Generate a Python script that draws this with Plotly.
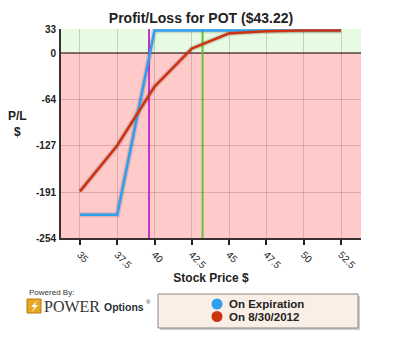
import plotly.graph_objects as go

# Stock prices evaluated
prices = [35, 37.5, 40, 42.5, 45, 47.5, 50, 52.5]
price_labels = ["35", "37.5", "40", "42.5", "45", "47.5", "50", "52.5"]

# P/L series
pl_expiration = [-222, -222, 31, 31, 31, 31, 31, 31]
pl_on_date = [-190, -127, -46, 6, 27, 30, 31, 31]

# Y axis ticks
y_ticks = [33, 0, -64, -127, -191, -254]

# Reference levels
breakeven = 39.63
current_price = 43.22

series_names = ["On Expiration", "On 8/30/2012"]
series_colors = ["#2f9ef0", "#cc3311"]

x_range = [33.73, 53.84]
y_range = [-254, 33]

FONT = "Liberation Sans, Arial"


def px(x):
    # pixel column -> paper x
    return (x - 61) / 300


def py(y):
    # pixel row -> paper y
    return (238 - y) / 209


fig = go.Figure()

# soft shadow under each curve
for ys in [pl_expiration, pl_on_date]:
    fig.add_trace(go.Scatter(
        x=prices, y=ys, mode="lines",
        line=dict(color="rgba(60,40,40,0.15)", width=5.5),
        hoverinfo="skip", showlegend=False,
    ))

for ys, name, col in zip([pl_expiration, pl_on_date], series_names, series_colors):
    fig.add_trace(go.Scatter(
        x=prices, y=ys, mode="lines", name=name,
        line=dict(color=col, width=2.6), showlegend=False,
    ))

shapes = [
    # profit / loss zones
    dict(type="rect", xref="x", yref="y", x0=x_range[0], x1=x_range[1], y0=0, y1=y_range[1],
         fillcolor="#e6fbe1", line_width=0, layer="below"),
    dict(type="rect", xref="x", yref="y", x0=x_range[0], x1=x_range[1], y0=y_range[0], y1=0,
         fillcolor="#ffcaca", line_width=0, layer="below"),
    # zero line
    dict(type="line", xref="x", yref="y", x0=x_range[0], x1=x_range[1], y0=0, y1=0,
         line=dict(color="#5a4444", width=1.5), layer="below"),
    # breakeven and current price markers
    dict(type="line", xref="x", yref="y", x0=breakeven, x1=breakeven, y0=y_range[0], y1=y_range[1],
         line=dict(color="#cc33cc", width=2), layer="below"),
    dict(type="line", xref="x", yref="y", x0=current_price, x1=current_price, y0=y_range[0], y1=y_range[1],
         line=dict(color="#66c23a", width=2), layer="below"),
    # legend box
    dict(type="rect", xref="paper", yref="paper", x0=px(160), x1=px(360),
         y0=py(330), y1=py(296),
         fillcolor="rgba(120,110,100,0.35)", line_width=0),
    dict(type="rect", xref="paper", yref="paper", x0=px(158), x1=px(358),
         y0=py(328), y1=py(294),
         fillcolor="#faefe6", line=dict(color="#8a8580", width=1)),
]

# legend swatches
for i, col in enumerate(series_colors):
    cy = 304 + i * 12.5
    shapes.append(dict(type="circle", xref="paper", yref="paper",
                       x0=px(211.5), x1=px(222.5),
                       y0=py(cy + 5.5), y1=py(cy - 5.5),
                       fillcolor=col, line_width=0))

# logo bolt tile
shapes.append(dict(type="rect", xref="paper", yref="paper",
                   x0=px(27), x1=px(41), y0=py(313), y1=py(299),
                   fillcolor="#e8a723", line=dict(color="#b57a10", width=1)))
shapes.append(dict(type="path", xref="paper", yref="paper",
                   path="M {0} {1} L {2} {3} L {4} {5} L {6} {7} L {8} {9} L {10} {11} Z".format(
                       px(37.5), py(300), px(31), py(307), px(34.5), py(307),
                       px(31.5), py(312.5), px(38), py(305), px(34.5), py(305)),
                   fillcolor="white", line_width=0))

annotations = [
    dict(text="<b>P/L<br>$</b>", xref="paper", yref="paper", x=px(17), y=py(124),
         xanchor="center", yanchor="middle", showarrow=False,
         font=dict(family=FONT, size=12, color="#222"), align="center"),
    dict(text="Powered By:", xref="paper", yref="paper", x=px(27), y=py(292.5),
         xanchor="left", yanchor="middle", showarrow=False,
         font=dict(family=FONT, size=8, color="#333")),
    dict(text="POWER", xref="paper", yref="paper", x=px(41.5), y=py(306.5),
         xanchor="left", yanchor="middle", showarrow=False,
         font=dict(family="Liberation Serif, Times New Roman", size=16, color="#333")),
    dict(text="<b>Options</b>", xref="paper", yref="paper", x=px(102),
         y=py(306.5), xanchor="left", yanchor="middle", showarrow=False,
         font=dict(family=FONT, size=10.5, color="#2a2f3a")),
    dict(text="®", xref="paper", yref="paper", x=px(143.5), y=py(302),
         xanchor="left", yanchor="middle", showarrow=False,
         font=dict(family=FONT, size=6, color="#2a2f3a")),
]
for i, name in enumerate(series_names):
    annotations.append(dict(
        text="<b>" + name + "</b>", xref="paper", yref="paper",
        x=px(227), y=py(304 + i * 12.5), xanchor="left", yanchor="middle",
        showarrow=False, font=dict(family=FONT, size=11.5, color="#222")))

fig.update_layout(
    width=403, height=337,
    margin=dict(l=61, r=42, t=29, b=99),
    paper_bgcolor="white", plot_bgcolor="rgba(0,0,0,0)",
    title=dict(text="<b>Profit/Loss for POT ($43.22)</b>", x=201 / 403, xanchor="center",
               y=1 - 18.5 / 337, yanchor="middle",
               font=dict(family=FONT, size=14, color="#222")),
    shapes=shapes, annotations=annotations,
    showlegend=False,
)
fig.update_xaxes(
    range=x_range, tickvals=prices, ticktext=price_labels, tickangle=45,
    showgrid=True, gridcolor="rgba(120,70,70,0.25)", gridwidth=1,
    showline=True, linecolor="#3a3030", linewidth=2,
    ticks="outside", ticklen=5, tickwidth=2, tickcolor="#222",
    tickfont=dict(family=FONT, size=10, color="#222"),
    zeroline=False,
    title=dict(text="<b>Stock Price $</b>", standoff=4,
               font=dict(family=FONT, size=12, color="#222")),
)
fig.update_yaxes(
    range=y_range, tickvals=y_ticks, ticktext=[str(v) for v in y_ticks],
    showgrid=True, gridcolor="rgba(120,70,70,0.25)", gridwidth=1,
    showline=True, linecolor="#3a3030", linewidth=2,
    ticks="", ticklabelstandoff=1,
    tickfont=dict(family=FONT, size=10, color="#222", weight="bold"),
    zeroline=False,
)

fig.write_html("out.html")
